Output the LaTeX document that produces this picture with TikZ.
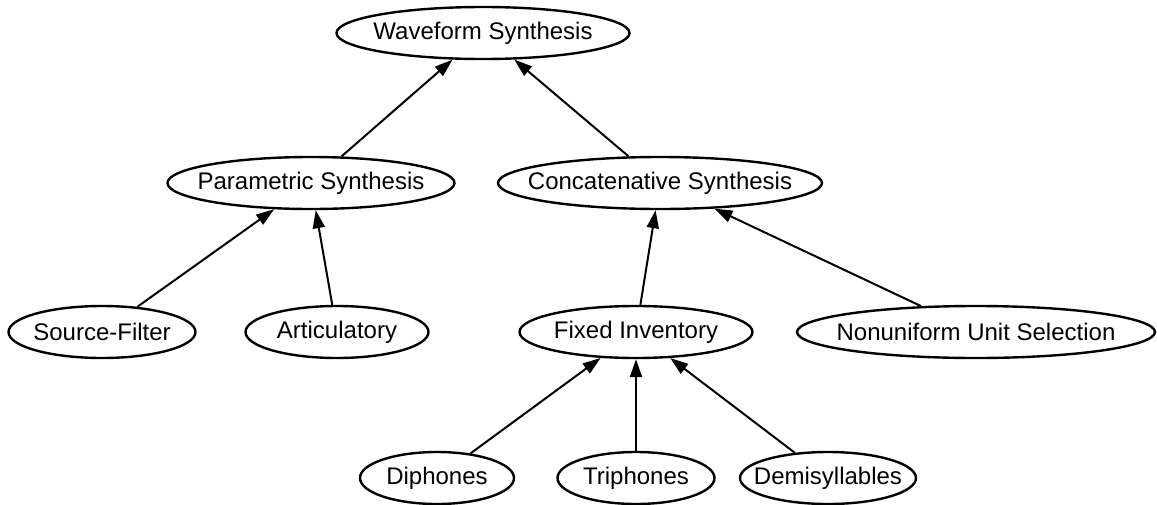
\documentclass[tikz,border=0pt]{standalone}
\usepackage{fontspec}
\setmainfont{Liberation Sans}
\usetikzlibrary{shapes.geometric,arrows.meta}

\def\lab#1{\makebox[0pt]{#1}}
\def\ra{33}
\def\rb{183}
\def\rc{332}
\def\rd{478}
\tikzstyle{n}=[ellipse,draw,line width=1.2pt,inner sep=0pt,minimum height=26pt,font=\fontsize{12}{14}\selectfont]
\tikzstyle{dep}=[-{Triangle[length=9pt,width=6pt]},line width=1pt]

\begin{document}
\begin{tikzpicture}[x=0.5pt,y=-0.5pt]
			\useasboundingbox (0,0) rectangle (1157,504);
			\node[n,minimum width=146.5pt](wave) at (483,\ra){\lab{Waveform Synthesis}};
			\node[n,minimum width=143.5pt](param) at (311,\rb){\lab{Parametric Synthesis}};
			\node[n,minimum width=162pt](concat) at (660,\rb){\lab{Concatenative Synthesis}};
			\node[n,minimum width=93.5pt](srcf) at (102,\rc){\lab{Source-Filter}};
			\node[n,minimum width=91.5pt](artic) at (337,\rc){\lab{Articulatory}};
			\node[n,minimum width=116.5pt](fixed) at (636,\rc){\lab{Fixed Inventory}};
			\node[n,minimum width=179pt](nonu) at (976,\rc){\lab{Nonuniform Unit Selection}};
			\node[n,minimum width=77pt](diph) at (437,\rd){\lab{Diphones}};
			\node[n,minimum width=78.5pt](triph) at (636,\rd){\lab{Triphones}};
			\node[n,minimum width=88pt](demi) at (828,\rd){\lab{Demisyllables}};
			\draw[dep](param)edge(wave);
			\draw[dep](concat)edge(wave);
			\draw[dep](srcf)edge(param);
			\draw[dep](artic)edge(param);
			\draw[dep](fixed)edge(concat);
			\draw[dep](nonu)edge(concat);
			\draw[dep](diph)edge(fixed);
			\draw[dep](triph)edge(fixed);
			\draw[dep](demi)edge(fixed);
		\end{tikzpicture}
\end{document}
